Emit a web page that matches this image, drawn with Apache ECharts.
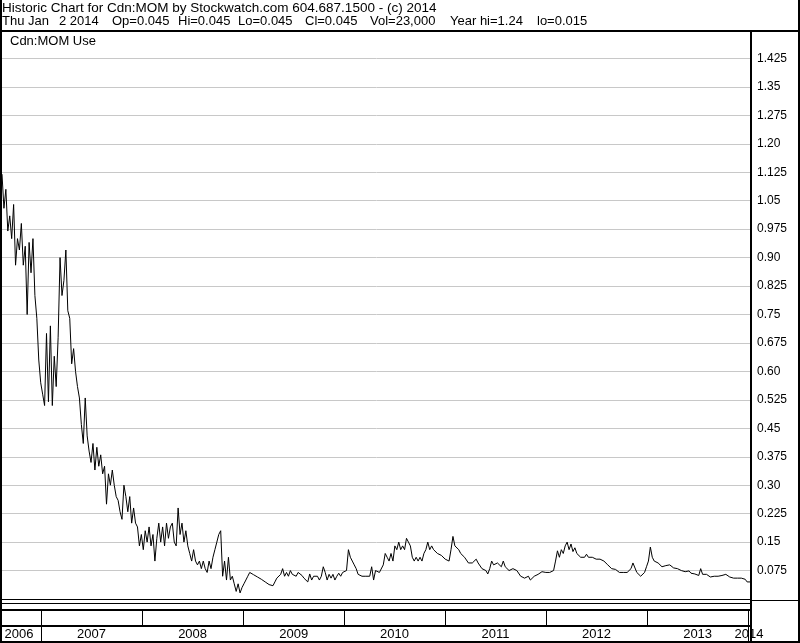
<!DOCTYPE html>
<html><head><meta charset="utf-8">
<script src="https://cdn.jsdelivr.net/npm/echarts@6/dist/echarts.min.js"></script>
<style>html,body{margin:0;padding:0;background:#fff}#c{width:800px;height:643px}</style>
</head><body><div id="c"></div><script>
const headerLine1 = 'Historic Chart for Cdn:MOM by Stockwatch.com 604.687.1500 - (c) 2014';
const headerLine2Parts = ['Thu Jan', '2 2014', 'Op=0.045', 'Hi=0.045', 'Lo=0.045', 'Cl=0.045', 'Vol=23,000', 'Year hi=1.24', 'lo=0.015'];
const panelLabel = 'Cdn:MOM Use';
const firstWeek = '2006-08-09';
const axisStart = '2006-08-09';
const axisEnd = '2014-01-08';
// weekly closing prices
const prices = [
 1.12, 1.03, 1.08, 0.97, 1.01, 0.95, 1.04, 0.88, 0.95, 0.92,
 0.99, 0.88, 0.93, 0.75, 0.94, 0.86, 0.95, 0.80, 0.74, 0.63,
 0.57, 0.54, 0.51, 0.70, 0.52, 0.72, 0.51, 0.64, 0.56, 0.69,
 0.90, 0.80, 0.84, 0.92, 0.76, 0.74, 0.62, 0.66, 0.60, 0.56,
 0.53, 0.46, 0.41, 0.53, 0.43, 0.39, 0.36, 0.41, 0.34, 0.40,
 0.35, 0.38, 0.33, 0.35, 0.25, 0.33, 0.30, 0.34, 0.30, 0.27,
 0.26, 0.23, 0.21, 0.30, 0.27, 0.23, 0.27, 0.20, 0.24, 0.20,
 0.19, 0.14, 0.17, 0.13, 0.18, 0.15, 0.19, 0.14, 0.17, 0.10,
 0.16, 0.20, 0.15, 0.19, 0.14, 0.20, 0.16, 0.19, 0.20, 0.15,
 0.14, 0.24, 0.17, 0.20, 0.15, 0.18, 0.14, 0.12, 0.10, 0.13,
 0.10, 0.09, 0.10, 0.08, 0.10, 0.08, 0.07, 0.10, 0.08, 0.11,
 0.13, 0.15, 0.17, 0.18, 0.06, 0.10, 0.05, 0.11, 0.05, 0.06,
 0.04, 0.02, 0.04, 0.016, 0.03, 0.04, 0.05, 0.06, 0.07, 0.065,
 0.064, 0.062, 0.058, 0.055, 0.052, 0.048, 0.045, 0.042, 0.038, 0.034,
 0.035, 0.045, 0.055, 0.06, 0.065, 0.08, 0.06, 0.07, 0.06, 0.075,
 0.065, 0.07, 0.06, 0.07, 0.065, 0.062, 0.055, 0.058, 0.045, 0.066,
 0.05, 0.06, 0.055, 0.06, 0.05, 0.06, 0.085, 0.07, 0.05, 0.065,
 0.055, 0.065, 0.05, 0.06, 0.068, 0.06, 0.07, 0.065, 0.075, 0.13,
 0.11, 0.10, 0.09, 0.08, 0.065, 0.06, 0.06, 0.06, 0.06, 0.06,
 0.06, 0.085, 0.05, 0.075, 0.07, 0.07, 0.068, 0.09, 0.12, 0.11,
 0.10, 0.12, 0.10, 0.14, 0.13, 0.15, 0.13, 0.14, 0.13, 0.16,
 0.15, 0.14, 0.11, 0.10, 0.11, 0.10, 0.11, 0.10, 0.12, 0.13,
 0.15, 0.13, 0.14, 0.13, 0.135, 0.12, 0.12, 0.115, 0.12, 0.105,
 0.10, 0.10, 0.13, 0.165, 0.14, 0.14, 0.13, 0.12, 0.125, 0.11,
 0.105, 0.095, 0.09, 0.095, 0.10, 0.105, 0.095, 0.09, 0.08, 0.085,
 0.075, 0.066, 0.08, 0.10, 0.09, 0.085, 0.095, 0.09, 0.085, 0.10,
 0.085, 0.09, 0.075, 0.07, 0.08, 0.08, 0.075, 0.07, 0.06, 0.065,
 0.055, 0.05, 0.06, 0.05, 0.055, 0.06, 0.058, 0.065, 0.068, 0.072,
 0.07, 0.07, 0.072, 0.07, 0.075, 0.075, 0.10, 0.127, 0.11, 0.13,
 0.12, 0.14, 0.15, 0.13, 0.145, 0.125, 0.135, 0.12, 0.125, 0.11,
 0.115, 0.11, 0.118, 0.11, 0.11, 0.11, 0.115, 0.105, 0.11, 0.105,
 0.10, 0.10, 0.095, 0.09, 0.085, 0.08, 0.082, 0.078, 0.075, 0.07,
 0.068, 0.07, 0.065, 0.07, 0.065, 0.08, 0.095, 0.09, 0.07, 0.065,
 0.06, 0.06, 0.07, 0.085, 0.10, 0.137, 0.11, 0.10, 0.105, 0.095,
 0.09, 0.085, 0.09, 0.088, 0.085, 0.09, 0.087, 0.082, 0.085, 0.08,
 0.08, 0.075, 0.078, 0.072, 0.07, 0.074, 0.068, 0.07, 0.066, 0.07,
 0.062, 0.08, 0.065, 0.06, 0.065, 0.06, 0.058, 0.062, 0.06, 0.063,
 0.06, 0.065, 0.062, 0.06, 0.065, 0.07, 0.058, 0.06, 0.055, 0.058,
 0.055, 0.05, 0.055, 0.05, 0.052, 0.045, 0.048, 0.045
];
const yearNames = ['2006','2007','2008','2009','2010','2011','2012','2013','2014'];
const yearBounds = ['2006-08-09','2007-01-01','2008-01-01','2009-01-01','2010-01-01','2011-01-01','2012-01-01','2013-01-01','2014-01-01','2014-01-08'];
const yMin = 0, yMax = 1.5, yStep = 0.075;

// layout (pixel x of each header piece)
const headerLine2X = [2, 59, 112, 178, 238, 305, 370, 450, 537];

function ms(s){ const p = s.split('-').map(Number); return Date.UTC(p[0], p[1]-1, p[2]); }
const DAY = 86400000;
const t0 = ms(firstWeek);
const priceData = prices.map((v, i) => [t0 + i * 7 * DAY, v]);
const yearData = yearNames.map((n, i) => [ms(yearBounds[i]), ms(yearBounds[i+1])]);

const FONT = '"Liberation Sans", Arial, sans-serif';
const chart = echarts.init(document.getElementById('c'), null, {renderer: 'canvas'});

function hr(x, y, w, h){ return {type:'rect', shape:{x, y, width:w, height:h}, style:{fill:'#000'}, z:100, silent:true}; }

const graphics = [
  {type:'text', left:2, top:1, style:{text: headerLine1, font:'13.5px ' + FONT, fill:'#000'}, z:100},
  {type:'text', left:10, top:35, style:{text: panelLabel, font:'13px ' + FONT, fill:'#000'}, z:100},
  hr(0, 30, 800, 2),
  hr(0, 0, 2, 643),
  hr(798, 0, 2, 643),
  hr(750, 30, 2, 613),
  hr(0, 599, 751, 1),
  hr(0, 603, 751, 1),
  hr(751, 600, 48, 1),
  hr(0, 609, 751, 2),
  hr(0, 625, 751, 2),
  hr(0, 641, 800, 2)
];
headerLine2Parts.forEach((t, i) => {
  graphics.push({type:'text', left: headerLine2X[i], top: 15, style:{text: t, font:'13px ' + FONT, fill:'#000'}, z:100});
});

chart.setOption({
  animation: false,
  backgroundColor: '#fff',
  grid: [
    {left: 2, top: 30, width: 749, height: 569},
    {left: 2, top: 611, width: 749, height: 30}
  ],
  xAxis: [
    {type:'time', gridIndex:0, min: ms(axisStart), max: ms(axisEnd), show:false},
    {type:'time', gridIndex:1, min: ms(axisStart), max: ms(axisEnd), show:false}
  ],
  yAxis: [
    {type:'value', gridIndex:0, position:'right', min:yMin, max:yMax, interval:yStep,
     axisLine:{show:false}, axisTick:{show:false},
     splitLine:{show:true, lineStyle:{color:'#c8c8c8', width:1}},
     axisLabel:{margin:6, color:'#000', fontSize:12, fontFamily:FONT,
       formatter: v => { if (v <= yMin + 1e-9 || v >= yMax - 1e-9) return ''; let s = v.toFixed(3); if (s.endsWith('0')) s = s.slice(0, -1); return s; }}},
    {type:'value', gridIndex:1, min:0, max:2, show:false}
  ],
  series: [
    {type:'line', xAxisIndex:0, yAxisIndex:0, data: priceData, showSymbol:false, symbol:'none',
     lineStyle:{color:'#000', width:1}, itemStyle:{color:'#000'}},
    {type:'custom', xAxisIndex:1, yAxisIndex:1, data: yearData, clip:false,
     encode:{x:[0,1]},
     renderItem: (params, api) => {
       const i = params.dataIndex;
       const a = api.coord([api.value(0), 2]);
       const b = api.coord([api.value(1), 2]);
       const mid = api.coord([api.value(0), 1]);
       const bot = api.coord([api.value(0), 0]);
       const children = [];
       if (i > 0) {
         const full = (i === 1 || i === yearNames.length - 1);
         children.push({type:'rect', shape:{x: Math.round(a[0]) - 1, y: a[1], width: 1, height: (full ? bot[1] : mid[1]) - a[1]}, style:{fill:'#000'}});
       }
       children.push({type:'text', style:{text: yearNames[i], x: (a[0] + b[0]) / 2 - (i === 0 ? 3 : 1), y: (mid[1] + bot[1]) / 2 + 1,
         align:'center', verticalAlign:'middle', font: '13px ' + FONT, fill:'#000'}});
       return {type:'group', children};
     }}
  ],
  graphic: graphics
});
</script></body></html>
